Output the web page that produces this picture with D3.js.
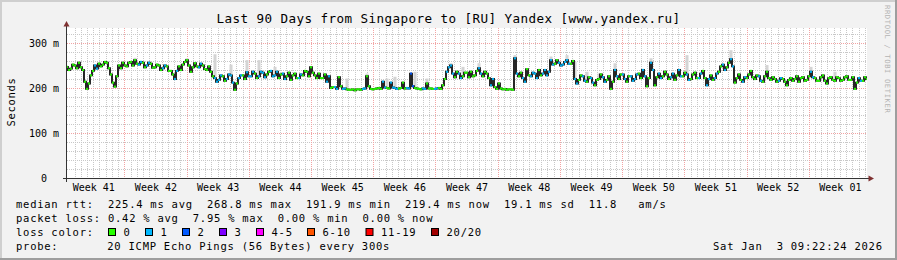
<!DOCTYPE html>
<html><head><meta charset="utf-8">
<script src="https://cdn.jsdelivr.net/npm/d3@7"></script>
<style>
html,body{margin:0;padding:0;background:#f2f2f2;}
svg{display:block;}
text{font-family:"DejaVu Sans Mono", monospace;}
</style></head><body>
<svg id="c" width="897" height="260"></svg>
<script>
const title = "Last 90 Days from Singapore to [RU] Yandex [www.yandex.ru]";
const yLabel = "Seconds";
const watermark = "RRDTOOL / TOBI OETIKER";
const yTicks = [0, 100, 200, 300];
const weekLabels = ["Week 41","Week 42","Week 43","Week 44","Week 45","Week 46","Week 47","Week 48","Week 49","Week 50","Week 51","Week 52","Week 01"];
const week41StartDay = -0.55;   // day (from graph start) where week 41 begins
const sampleStepDays = 0.45;    // spacing of median samples, in days

// median RTT in ms, one value every 0.45 day over 90 days
const median = [
247,243,250,256,240,198,228,250,254,252,256,230,203,250,256,248,258,262,252,256,
250,254,246,250,244,248,238,220,248,252,262,236,255,246,250,240,236,222,218,226,
220,228,196,222,228,235,226,232,226,234,230,
238,228,222,232,226,218,232,222,228,236,246,228,232,222,214,200,202,224,198,197,
196,195,197,198,226,198,198,200,214,200,212,200,199,212,200,232,200,198,199,210,
199,198,200,206,236,250,224,232,226,234,
236,228,244,226,232,206,202,210,197,196,197,266,226,222,242,226,232,240,232,228,
262,254,256,252,262,254,220,218,226,214,222,206,220,224,218,198,240,220,230,214,
226,220,232,240,204,256,206,232,226,230,
224,218,240,226,230,220,234,222,238,206,228,222,236,252,246,264,212,230,214,222,
238,220,226,214,236,218,220,216,220,206,222,220,214,224,218,236,222,216,228,210,
224,216,222,218,226,218,198,222,216,220];

// second median reading inside each sample window (the other end of the short black jumps)
const medianAlt = [
240,252,244,246,214,210,238,243,248,258,244,212,226,244,250,256,250,254,258,246,
256,245,252,240,250,238,230,238,240,258,250,246,248,254,242,248,226,214,228,216,
230,212,210,228,220,226,236,222,236,224,236,
226,236,230,220,234,228,222,230,238,226,234,222,222,230,226,202,198,204,199,196,
197,197,196,199,204,197,199,198,201,199,201,198,200,199,199,204,199,197,198,199,
198,199,198,220,246,232,236,222,234,224,
226,238,232,236,222,220,198,199,198,197,196,232,234,214,228,234,222,228,240,236,
252,262,250,258,254,260,210,228,216,224,212,218,230,214,226,214,226,230,220,226,
216,230,222,226,222,240,224,222,236,220,
232,228,226,234,218,230,222,232,222,220,218,232,248,240,256,248,222,218,224,230,
224,228,216,226,222,224,214,222,214,218,216,226,222,216,226,224,216,224,216,222,
218,224,216,224,218,224,212,216,224,218];

// lost pings (of 20) for each sample
const loss = [
0,0,0,0,0,0,0,1,0,0, 0,0,0,0,0,0,0,0,1,0, 1,0,0,0,1,0,0,1,0,0, 0,0,0,1,0,0,0,1,1,0,
1,1,0,1,0,1,1,0,1,1, 0,1,1,0,1,0,0,0,1,0, 0,0,0,0,0,1,0,1,0,1, 0,0,0,0,1,0,0,0,0,1,
0,1,1,0,0,1,2,0,0,1, 0,0,1,0,0,1,1,0,1,0, 0,0,0,1,0,0,1,0,0,0, 0,0,1,0,1,0,1,1,0,1,
1,1,0,1,1,1,0,1,0,1, 0,1,0,0,1,0,0,1,0,1, 0,1,1,0,1,0,1,0,1,0, 0,1,0,1,0,1,0,0,1,0,
1,0,1,0,1,0,1,0,0,1, 0,0,0,1,0,0,0,0,1,0, 0,0,0,0,0,0,1,0,0,0, 0,0,0,0,0,0,0,0,1,0, 0];

// smoke spikes: [sample index, top of ping spread in ms]
const smokeSpikes = [
[17,267],[30,266],[37,275],[41,252],[45,262],[48,262],
[52,247],[68,225],[70,221],[75,232],[80,221],[82,225],[87,236],[90,221],[96,255],[99,247],
[103,255],[112,273],[121,270],[125,273],[127,258],[130,236],[133,232],[137,255],[146,266],
[155,273],[166,284],[175,251],[186,247],[192,236]];

const lossLevels = ["0","1","2","3","4-5","6-10","11-19","20/20"];
const lossColors = ["#26ff00","#00b8ff","#0059ff","#7e00ff","#ff00ff","#ff5500","#ff0000","#a10000"];
const rttStats = ["225.4 ms avg","268.8 ms max","191.9 ms min","219.4 ms now","19.1 ms sd","11.8","am/s"];
const lossStats = ["0.42 % avg","7.95 % max","0.00 % min","0.00 % now"];
const probeText = "20 ICMP Echo Pings (56 Bytes) every 300s";
const dateText = "Sat Jan  3 09:22:24 2026";

const W = 897, H = 260;
const svg = d3.select("#c");
const x = d3.scaleLinear().domain([0, 90]).range([67, 867]);
const y = d3.scaleLinear().domain([0, 333.33]).range([178, 28]);
const lossColor = n => n <= 0 ? lossColors[0] : n === 1 ? lossColors[1] : n === 2 ? lossColors[2] :
  n === 3 ? lossColors[3] : n <= 5 ? lossColors[4] : n <= 10 ? lossColors[5] : n <= 19 ? lossColors[6] : lossColors[7];

// background & frame
svg.append("rect").attr("width", W).attr("height", H).attr("fill", "#f2f2f2");
svg.append("rect").attr("x",0).attr("y",0).attr("width",W).attr("height",2).attr("fill","#cfcfcf");
svg.append("rect").attr("x",0).attr("y",0).attr("width",2).attr("height",H).attr("fill","#cfcfcf");
svg.append("rect").attr("x",0).attr("y",H-2).attr("width",W).attr("height",2).attr("fill","#9e9e9e");
svg.append("rect").attr("x",W-2).attr("y",0).attr("width",2).attr("height",H).attr("fill","#9e9e9e");

svg.append("defs").append("clipPath").attr("id", "plotclip")
  .append("rect").attr("x", 67).attr("y", 28).attr("width", 800).attr("height", 150);

// canvas
svg.append("rect").attr("x", 67).attr("y", 28).attr("width", 800).attr("height", 150).attr("fill", "#fff");

const g = svg.append("g").attr("shape-rendering", "crispEdges");
const px = v => Math.round(v) + 0.5;
// minor vertical grid
const minorDays = d3.range(0, 140).map(m => ({m, d: week41StartDay + 0.7 * m}))
  .filter(o => o.m % 10 !== 0 && o.d > 0.3 && o.d < 90);
g.selectAll(".vmin").data(minorDays).join("line")
  .attr("x1", o => px(x(o.d))).attr("x2", o => px(x(o.d))).attr("y1", 28).attr("y2", 178)
  .attr("stroke", "#c8c8c8").attr("stroke-dasharray", "1,1");
// minor horizontal grid
const minorMs = d3.range(20, 333, 20).filter(v => v % 100 !== 0);
g.selectAll(".hmin").data(minorMs).join("line")
  .attr("x1", 67).attr("x2", 867).attr("y1", v => px(y(v))).attr("y2", v => px(y(v)))
  .attr("stroke", "#c8c8c8").attr("stroke-dasharray", "1,1");
// major vertical grid
const majorDays = d3.range(1, 13).map(k => week41StartDay + 7 * k);
g.selectAll(".vmaj").data(majorDays).join("line")
  .attr("x1", d => px(x(d))).attr("x2", d => px(x(d))).attr("y1", 28).attr("y2", 178)
  .attr("stroke", "#f2a4a4").attr("stroke-dasharray", "1,1");
// major horizontal grid
g.selectAll(".hmaj").data(yTicks.filter(v => v > 0)).join("line")
  .attr("x1", 67).attr("x2", 867).attr("y1", v => px(y(v))).attr("y2", v => px(y(v)))
  .attr("stroke", "#f2a4a4").attr("stroke-dasharray", "1,1");

const plot = svg.append("g").attr("clip-path", "url(#plotclip)");

// points: two readings per sample window
const pts = [];
median.forEach((v, i) => {
  pts.push({d: i * sampleStepDays, v, l: loss[i]});
  pts.push({d: i * sampleStepDays + sampleStepDays / 2, v: medianAlt[i], l: loss[i]});
});

// smoke
plot.append("g").selectAll("rect").data(smokeSpikes).join("rect")
  .attr("x", s => x(s[0] * sampleStepDays) - 1.5).attr("width", 3)
  .attr("y", s => y(s[1])).attr("height", s => Math.max(0, y(median[s[0]]) - y(s[1])))
  .attr("fill", "#d4d4d4");

// median line
plot.append("path").datum(pts)
  .attr("d", d3.line().x(p => x(p.d)).y(p => y(p.v)).curve(d3.curveStep))
  .attr("fill", "none").attr("stroke", "#1c1c1c").attr("stroke-width", 1.9);
// loss coloured marks
plot.append("g").selectAll("rect").data(pts).join("rect")
  .attr("x", p => x(p.d) - 0.9).attr("width", 1.8)
  .attr("y", p => y(p.v) - 1.1).attr("height", 2.2)
  .attr("fill", p => lossColor(p.l));

// axes
const xAxis = d3.axisBottom(x)
  .tickValues(weekLabels.map((_, k) => week41StartDay + 7 * k + 3.5))
  .tickFormat((_, k) => weekLabels[k]).tickSize(0).tickPadding(5.6);
const xa = svg.append("g").attr("transform", "translate(0,178)").call(xAxis);
xa.select(".domain").remove();
xa.selectAll("text").attr("font-family", "DejaVu Sans Mono").attr("font-size", 10).attr("fill", "#000");

const yAxis = d3.axisLeft(y).tickValues(yTicks)
  .tickFormat(v => v === 0 ? "0\u00a0\u00a0" : (v) + " m").tickSize(0).tickPadding(8);
const ya = svg.append("g").attr("transform", "translate(67,0)").call(yAxis);
ya.select(".domain").remove();
ya.selectAll("text").attr("font-family", "DejaVu Sans Mono").attr("font-size", 10).attr("fill", "#000");

// axis lines + arrows
svg.append("line").attr("x1", 63).attr("x2", 869).attr("y1", 178.5).attr("y2", 178.5)
  .attr("stroke", "#333").attr("shape-rendering", "crispEdges");
svg.append("line").attr("x1", 66.5).attr("x2", 66.5).attr("y1", 182).attr("y2", 25)
  .attr("stroke", "#333").attr("shape-rendering", "crispEdges");
svg.append("path").attr("d", "M63.5,26.5L69.5,26.5L66.5,21Z").attr("fill", "#7f3131");
svg.append("path").attr("d", "M868.5,175.5L868.5,181.5L874,178.5Z").attr("fill", "#7f3131");

// title
svg.append("text").attr("x", 448.5).attr("y", 23.3).attr("text-anchor", "middle")
  .attr("font-size", 12.6).attr("letter-spacing", 0.42).attr("fill", "#000").text(title);
// y label
svg.append("text").attr("transform", "translate(15,102) rotate(-90)").attr("text-anchor", "middle")
  .attr("font-size", 10.5).attr("letter-spacing", 0.7).attr("fill", "#000").text(yLabel);
// watermark
svg.append("text").attr("transform", "translate(885,5) rotate(90)")
  .attr("font-size", 7.2).attr("letter-spacing", 0.6).attr("fill", "#b4b4b4").text(watermark);

// legend
const leg = svg.append("g").attr("font-size", 10.5).attr("letter-spacing", 0.75).attr("fill", "#000");
const addT = (tx, ty, s) => leg.append("text").attr("x", tx).attr("y", ty).style("white-space", "pre").text(s);
addT(16, 208, "median rtt:  " + rttStats.slice(0, 6).join("  ") + "   " + rttStats[6]);
addT(16, 222, "packet loss: " + lossStats.join("  "));
addT(16, 236, "loss color:");
const boxX = [108.5, 145.5, 182.5, 219.5, 256.5, 307.5, 366, 431.5];
lossLevels.forEach((lv, i) => {
  leg.append("rect").attr("x", boxX[i]).attr("y", 228.5).attr("width", 7).attr("height", 7)
    .attr("fill", lossColors[i]).attr("stroke", "#000").attr("stroke-width", 1);
  addT(boxX[i] + 15, 236, lv);
});
addT(16, 250, "probe:");
addT(107.3, 250, probeText);
addT(713, 250, dateText);
</script>
</body></html>
